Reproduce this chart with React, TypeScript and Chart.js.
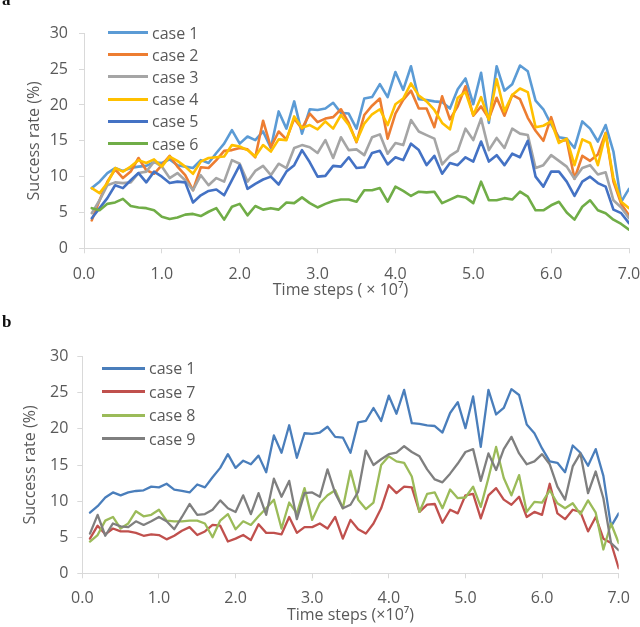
import React, { useEffect, useRef } from 'react';
import { Chart, registerables } from 'chart.js';

Chart.register(...registerables);

// x positions (time steps, x10^7)
const timeSteps = [
  0.1, 0.2, 0.3, 0.4, 0.5, 0.6, 0.7, 0.8, 0.9, 1.0,
  1.1, 1.2, 1.3, 1.4, 1.5, 1.6, 1.7, 1.8, 1.9, 2.0,
  2.1, 2.2, 2.3, 2.4, 2.5, 2.6, 2.7, 2.8, 2.9, 3.0,
  3.1, 3.2, 3.3, 3.4, 3.5, 3.6, 3.7, 3.8, 3.9, 4.0,
  4.1, 4.2, 4.3, 4.4, 4.5, 4.6, 4.7, 4.8, 4.9, 5.0,
  5.1, 5.2, 5.3, 5.4, 5.5, 5.6, 5.7, 5.8, 5.9, 6.0,
  6.1, 6.2, 6.3, 6.4, 6.5, 6.6, 6.7, 6.8, 6.9, 7.0,
];

const xTicks = [0, 1, 2, 3, 4, 5, 6, 7];
const yTicks = [0, 5, 10, 15, 20, 25, 30];

// success rate (%) per case
const case1 = [
  8.4, 9.3, 10.5, 11.2, 10.8, 11.2, 11.4, 11.5, 12.0, 11.9,
  12.4, 11.6, 11.4, 11.2, 12.3, 11.9, 13.3, 14.6, 16.5, 14.6,
  15.6, 15.1, 16.3, 14.0, 19.1, 16.7, 20.5, 16.0, 19.4, 19.3,
  19.5, 20.3, 18.9, 18.8, 16.7, 20.9, 21.1, 22.9, 21.1, 24.6,
  22.1, 25.4, 20.8, 20.7, 20.5, 20.4, 19.5, 22.2, 23.7, 20.1,
  24.5, 17.5, 25.4, 22.0, 22.9, 25.5, 24.7, 20.6, 19.4, 17.3,
  15.5, 15.3, 14.0, 17.7, 16.7, 14.9, 17.2, 13.5, 6.5, 8.3,
];
const case2 = [
  3.9, 6.7, 9.3, 11.0, 9.8, 10.7, 12.6, 10.9, 10.4, 11.6,
  12.9, 11.4, 10.2, 8.1, 11.3, 11.2, 12.3, 13.6, 13.7, 14.0,
  13.8, 12.7, 17.8, 14.1, 16.3, 15.2, 18.1, 16.7, 18.8, 17.6,
  18.1, 18.3, 19.4, 17.5, 14.8, 18.6, 19.9, 20.9, 15.3, 18.8,
  20.7, 22.0, 19.5, 19.5, 16.9, 21.2, 18.0, 19.8, 22.6, 18.5,
  19.8, 18.1, 21.0, 18.5, 21.4, 20.8, 18.2, 16.4, 15.0, 18.3,
  14.9, 15.1, 9.7, 12.9, 12.2, 13.1, 16.1, 9.3, 6.2, 4.6,
];
const case3 = [
  4.9, 6.7, 8.8, 9.2, 9.1, 9.2, 10.5, 10.7, 12.1, 11.4,
  9.8, 10.5, 9.5, 8.1, 10.2, 8.8, 9.8, 9.3, 12.3, 11.8,
  9.3, 10.8, 11.5, 10.2, 11.8, 11.2, 14.0, 14.4, 14.1, 13.3,
  15.1, 12.6, 15.5, 13.7, 13.8, 13.0, 15.5, 15.9, 13.2, 14.7,
  14.4, 17.9, 16.3, 15.8, 15.3, 11.7, 12.9, 13.6, 16.7, 15.1,
  18.1, 13.7, 15.4, 14.0, 16.7, 16.0, 15.8, 11.2, 11.6, 13.0,
  12.2, 11.4, 9.7, 11.2, 11.6, 10.3, 10.6, 6.7, 5.7, 4.2,
];
const case4 = [
  8.4, 7.7, 9.1, 11.2, 10.7, 11.4, 12.3, 11.9, 12.4, 11.4,
  12.8, 12.2, 11.4, 10.4, 12.1, 12.6, 12.7, 12.8, 14.4, 14.2,
  13.7, 12.8, 14.4, 13.5, 15.2, 15.1, 18.4, 16.8, 17.2, 16.6,
  17.7, 16.7, 18.6, 17.2, 14.9, 17.4, 18.7, 19.4, 17.2, 20.1,
  20.9, 23.0, 21.3, 20.5, 19.3, 17.5, 16.6, 21.0, 21.8, 18.6,
  21.1, 17.9, 23.6, 19.1, 21.4, 22.3, 21.8, 16.9, 17.1, 17.7,
  14.7, 15.3, 11.6, 15.2, 14.7, 11.6, 16.0, 9.8, 6.5, 5.6,
];
const case5 = [
  4.2, 5.6, 7.0, 8.8, 8.4, 9.5, 10.5, 9.2, 10.7, 10.0,
  9.1, 9.3, 9.2, 6.4, 7.4, 8.0, 8.2, 7.4, 9.5, 11.6,
  8.3, 9.0, 9.6, 10.0, 8.9, 10.7, 11.6, 13.7, 12.0, 10.0,
  10.1, 11.5, 11.4, 12.7, 11.2, 11.3, 13.3, 13.6, 11.7, 12.7,
  12.3, 14.6, 13.7, 11.6, 12.9, 10.4, 11.9, 11.6, 12.7, 12.1,
  14.9, 12.1, 13.0, 11.6, 13.2, 12.7, 15.0, 10.0, 8.6, 10.7,
  10.7, 9.3, 7.3, 9.3, 10.0, 9.1, 8.6, 5.4, 4.9, 3.5,
];
const case6 = [
  5.6, 5.3, 6.2, 6.4, 6.9, 5.9, 5.7, 5.6, 5.3, 4.4,
  4.1, 4.3, 4.7, 4.8, 4.5, 5.1, 5.6, 4.0, 5.8, 6.2,
  4.6, 5.9, 5.4, 5.6, 5.4, 6.4, 6.3, 7.1, 6.3, 5.7,
  6.2, 6.6, 6.8, 6.8, 6.5, 8.1, 8.1, 8.4, 6.5, 8.6,
  8.0, 7.3, 7.9, 7.8, 7.9, 6.3, 6.8, 7.3, 7.1, 6.3,
  9.3, 6.7, 6.7, 7.0, 6.8, 7.9, 7.2, 5.3, 5.3, 6.0,
  6.5, 5.0, 4.0, 5.8, 6.7, 5.3, 4.9, 4.0, 3.4, 2.6,
];
const case7 = [
  4.8, 6.6, 5.4, 6.2, 5.8, 5.8, 5.6, 5.2, 5.4, 5.3,
  4.7, 5.2, 5.9, 6.4, 5.3, 5.8, 6.7, 6.6, 4.4, 4.8,
  5.3, 4.6, 6.8, 5.6, 5.6, 5.4, 7.8, 5.6, 6.4, 6.4,
  6.9, 6.2, 7.8, 4.8, 7.4, 6.1, 5.5, 6.9, 9.0, 12.2,
  11.1, 12.0, 11.9, 8.5, 9.5, 9.6, 7.0, 8.8, 8.3, 10.8,
  11.0, 7.6, 10.8, 11.8, 10.2, 9.5, 10.6, 7.8, 8.5, 8.1,
  12.4, 8.3, 7.5, 8.8, 8.5, 5.8, 7.8, 4.8, 4.2, 0.7,
];
const case8 = [
  4.4, 5.3, 7.3, 7.8, 6.2, 6.9, 8.6, 7.9, 8.1, 8.8,
  7.3, 7.2, 7.2, 7.3, 7.3, 6.9, 5.0, 7.3, 8.2, 6.1,
  7.2, 6.7, 7.9, 9.0, 10.2, 6.2, 9.8, 8.3, 11.8, 7.4,
  9.7, 10.8, 11.5, 9.0, 14.2, 10.2, 8.9, 9.8, 15.0, 16.2,
  15.5, 15.3, 13.4, 8.5, 11.0, 11.2, 9.0, 11.6, 10.4, 10.5,
  12.0, 9.2, 13.2, 17.5, 13.2, 10.8, 13.6, 8.5, 9.9, 9.8,
  11.5, 9.7, 9.0, 9.7, 8.2, 10.1, 8.4, 3.3, 6.9, 4.2,
];
const case9 = [
  5.5, 8.1, 5.2, 6.9, 6.5, 6.4, 7.2, 6.7, 7.2, 7.8,
  7.2, 6.1, 7.8, 9.6, 8.1, 8.2, 8.8, 10.1, 9.0, 8.5,
  10.8, 8.2, 11.1, 8.1, 13.1, 10.6, 12.8, 7.5, 11.1, 11.2,
  10.6, 14.4, 11.1, 9.0, 9.5, 11.3, 17.0, 15.0, 15.8, 16.5,
  16.7, 17.6, 16.8, 16.2, 14.4, 13.0, 12.6, 13.8, 15.2, 16.8,
  17.2, 12.8, 16.6, 14.3, 17.2, 18.9, 16.6, 15.1, 15.5, 16.5,
  15.1, 12.0, 10.2, 14.8, 16.6, 11.1, 14.1, 10.4, 4.2, 3.2,
];

const FONT = '"Open Sans", "DejaVu Sans", sans-serif';
const TEXT = '#595959';
const AXIS = '#D9D9D9';

interface Series {
  label: string;
  data: number[];
  color: string;
}

interface Geometry {
  width: number;
  height: number;
  padTop: number;
  padRight: number;
  xHeight: number;
  xTickPad: number;
  xTitlePad: number;
  yWidth: number;
  yTickPad: number;
  yTitlePad: number;
  xTitle: string;
  lineWidth: number;
}

const seriesA: Series[] = [
  { label: 'case 1', data: case1, color: '#5B9BD5' },
  { label: 'case 2', data: case2, color: '#ED7D31' },
  { label: 'case 3', data: case3, color: '#A5A5A5' },
  { label: 'case 4', data: case4, color: '#FFC000' },
  { label: 'case 5', data: case5, color: '#4472C4' },
  { label: 'case 6', data: case6, color: '#70AD47' },
];

const seriesB: Series[] = [
  { label: 'case 1', data: case1, color: '#4A7EBB' },
  { label: 'case 7', data: case7, color: '#C0504D' },
  { label: 'case 8', data: case8, color: '#9BBB59' },
  { label: 'case 9', data: case9, color: '#7F7F7F' },
];

// panel a's axis title sits a bit left of the plot centre in the original,
// the trailing em spaces push it over
const geoA: Geometry = {
  width: 640, height: 310,
  padTop: 33.3, padRight: 11,
  xHeight: 61.7, xTickPad: 12, xTitlePad: 10,
  yWidth: 84, yTickPad: 11, yTitlePad: 25,
  xTitle: 'Time steps ( \u00d7 10\u2077)\u2003\u2003',
  lineWidth: 2.6,
};

const geoB: Geometry = {
  width: 640, height: 317,
  padTop: 46.7, padRight: 21.3,
  xHeight: 53.7, xTickPad: 11, xTitlePad: 1.5,
  yWidth: 82.3, yTickPad: 9, yTitlePad: 21,
  xTitle: 'Time steps (\u00d710\u2077)',
  lineWidth: 2.3,
};

const LinePanel: React.FC<{ series: Series[]; geo: Geometry; top: number }> = ({ series, geo, top }) => {
  const canvasRef = useRef<HTMLCanvasElement | null>(null);

  useEffect(() => {
    if (!canvasRef.current) return;
    const tickFont = { family: FONT, size: 16 };
    const chart = new Chart(canvasRef.current, {
      type: 'line',
      data: {
        datasets: series.map((s, i) => ({
          label: s.label,
          data: s.data.map((v, j) => ({ x: timeSteps[j], y: v })),
          borderColor: s.color,
          backgroundColor: s.color,
          borderWidth: geo.lineWidth,
          pointRadius: 0,
          tension: 0,
          borderJoinStyle: 'round' as const,
          borderCapStyle: 'round' as const,
          order: -i, // later series on top, like the original
        })),
      },
      options: {
        responsive: false,
        animation: false,
        events: [],
        layout: { padding: { left: 0, right: geo.padRight, top: geo.padTop, bottom: 0 } },
        plugins: { legend: { display: false }, tooltip: { enabled: false } },
        scales: {
          x: {
            type: 'linear',
            min: 0,
            max: 7,
            afterBuildTicks: (scale: any) => {
              scale.ticks = xTicks.map((v) => ({ value: v }));
            },
            ticks: {
              callback: (v: any) => Number(v).toFixed(1),
              color: TEXT,
              font: tickFont,
              padding: geo.xTickPad,
              maxRotation: 0,
              autoSkip: false,
            },
            grid: { drawOnChartArea: false, drawTicks: true, tickLength: 5, color: AXIS },
            border: { color: AXIS, width: 1 },
            title: {
              display: true,
              text: geo.xTitle,
              color: TEXT,
              font: tickFont,
              padding: { top: 0, bottom: geo.xTitlePad },
            },
            afterFit: (scale: any) => {
              scale.height = geo.xHeight;
              scale.paddingLeft = 0;
              scale.paddingRight = 0;
            },
          },
          y: {
            min: 0,
            max: 30,
            afterBuildTicks: (scale: any) => {
              scale.ticks = yTicks.map((v) => ({ value: v }));
            },
            ticks: { color: TEXT, font: tickFont, padding: geo.yTickPad },
            grid: { drawOnChartArea: false, drawTicks: true, tickLength: 5, color: AXIS },
            border: { color: AXIS, width: 1 },
            title: {
              display: true,
              text: 'Success rate (%)',
              color: TEXT,
              font: tickFont,
              padding: { top: geo.yTitlePad, bottom: 0 },
            },
            afterFit: (scale: any) => {
              scale.width = geo.yWidth;
              scale.paddingTop = 0;
              scale.paddingBottom = 0;
            },
          },
        },
      } as any,
    });
    return () => chart.destroy();
  }, [series, geo]);

  return (
    <canvas
      ref={canvasRef}
      width={geo.width}
      height={geo.height}
      style={{ position: 'absolute', left: 0, top, display: 'block' }}
    />
  );
};

const Legend: React.FC<{ items: Series[]; left: number; top: number; step: number; swatch: number }> = ({
  items, left, top, step, swatch,
}) => (
  <div style={{ position: 'absolute', left, top, fontFamily: FONT, fontSize: 16, color: TEXT }}>
    {items.map((s, i) => (
      <div
        key={s.label}
        style={{
          position: 'absolute', left: 0, top: i * step - 11, height: 22,
          display: 'flex', alignItems: 'center', whiteSpace: 'nowrap',
        }}
      >
        <span style={{ display: 'inline-block', width: swatch, height: 3, background: s.color, marginRight: 4 }} />
        <span>{s.label}</span>
      </div>
    ))}
  </div>
);

const PanelLetter: React.FC<{ text: string; top: number }> = ({ text, top }) => (
  <div
    style={{
      position: 'absolute', left: 2, top, fontFamily: '"Liberation Serif", serif',
      fontWeight: 'bold', fontSize: 17, lineHeight: '17px', color: '#111',
    }}
  >
    {text}
  </div>
);

export default function App() {
  return (
    <div style={{ position: 'absolute', left: 0, top: 0, width: 640, height: 627, background: '#fff', overflow: 'hidden' }}>
      <LinePanel series={seriesA} geo={geoA} top={0} />
      <LinePanel series={seriesB} geo={geoB} top={310} />
      <Legend items={seriesA} left={108} top={32.5} step={22.2} swatch={40} />
      <Legend items={seriesB} left={102} top={368.3} step={23.5} swatch={43} />
      <PanelLetter text="a" top={-9} />
      <PanelLetter text="b" top={312.5} />
    </div>
  );
}
